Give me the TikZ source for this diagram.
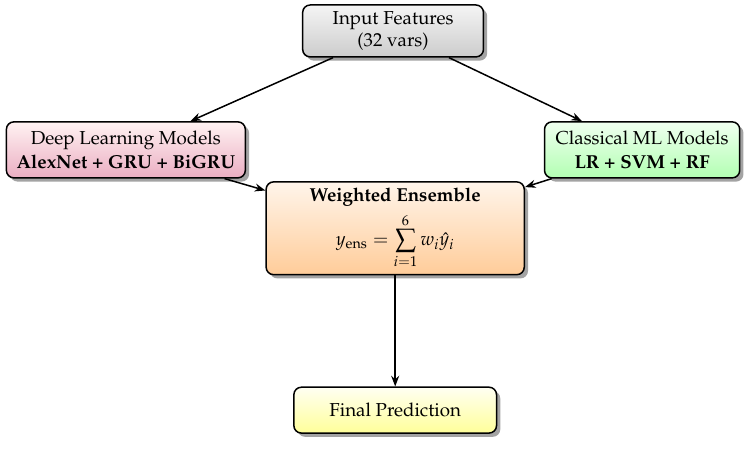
\documentclass[tikz,border=0pt]{standalone}
\usepackage[T1]{fontenc}
\usepackage{amsmath}
\usepackage{mathpazo}
\usetikzlibrary{shadows,arrows.meta}

\tikzset{
  model/.style={draw, thick, rounded corners=4pt, align=center,
    drop shadow={shadow xshift=2pt, shadow yshift=-2pt, fill=black!60, opacity=0.6}},
  flow/.style={-{Stealth[length=2mm, width=1.5mm]}, thick}
}

\begin{document}
\begin{tikzpicture}
\useasboundingbox (0,0) rectangle (14.025,-8.475);
%
% ---- Nodes ----
\node[model, top color=gray!8, bottom color=gray!40,
  minimum width=3.39cm, minimum height=0.94cm] (input) at (7.37,-0.58)
  {Input Features\\(32 vars)};
\node[model, top color=red!5, bottom color=purple!32,
  minimum width=4.48cm, minimum height=1.05cm] (deep) at (2.36,-2.81)
  {Deep Learning Models\\[1pt]\textbf{AlexNet + GRU + BiGRU}};
\node[model, top color=green!6, bottom color=green!30,
  minimum width=3.66cm, minimum height=1.05cm] (classic) at (12.04,-2.81)
  {Classical ML Models\\[1pt]\textbf{LR + SVM + RF}};
\node[model, top color=orange!8, bottom color=orange!40,
  minimum width=4.84cm, minimum height=1.74cm] (ensemble) at (7.41,-4.28)
  {\textbf{Weighted Ensemble}\\[3pt]
   $\displaystyle y_{\text{ens}} = \sum_{i=1}^{6} w_i\hat{y}_i$};
\node[model, top color=yellow!5, bottom color=yellow!40,
  minimum width=3.8cm, minimum height=0.86cm] (final) at (7.41,-7.69)
  {Final Prediction};
%
% ---- Connections ----
\draw[flow] (input) -- (deep);
\draw[flow] (input) -- (classic);
\draw[flow] (deep) -- (ensemble);
\draw[flow] (classic) -- (ensemble);
\draw[flow] (ensemble) -- (final);
\end{tikzpicture}
\end{document}
